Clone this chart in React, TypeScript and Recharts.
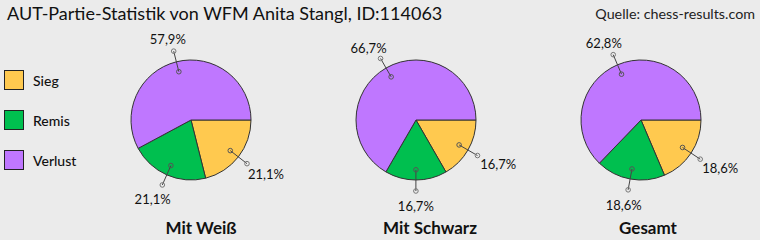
import React from 'react';
import { PieChart, Pie, Cell } from 'recharts';

const categories = ['Sieg', 'Remis', 'Verlust'];
const colors = ['#FFC94F', '#00BF4F', '#BF77FF'];
const weissValues = [21.1, 21.1, 57.9];
const schwarzValues = [16.7, 16.7, 66.7];
const gesamtValues = [18.6, 18.6, 62.8];
const groupLabels = ['Mit Weiß', 'Mit Schwarz', 'Gesamt'];
const title = 'AUT-Partie-Statistik von WFM Anita Stangl, ID:114063';
const source = 'Quelle: chess-results.com';

const build = (vals: number[]) => categories.map((name, i) => ({ name, value: vals[i] }));
const groups = [build(weissValues), build(schwarzValues), build(gesamtValues)];
const centersX = [191, 416, 641];
const labelX = [201, 430, 648];

const FONT = 'Lato, "Open Sans", sans-serif';
const RAD = Math.PI / 180;

const renderLabel = (p: any) => {
  const { cx, cy, midAngle, outerRadius, value } = p;
  const c = Math.cos(-midAngle * RAD);
  const s = Math.sin(-midAngle * RAD);
  const ix = cx + c * outerRadius * 0.83;
  const iy = cy + s * outerRadius * 0.83;
  const ox = cx + c * (outerRadius + 11);
  const oy = cy + s * (outerRadius + 11);
  const tx = ox + c * 24;
  const ty = oy + s * 14 + 1.5;
  return (
    <g>
      <line x1={ix} y1={iy} x2={ox} y2={oy} stroke="#444" strokeWidth={1} />
      <circle cx={ix} cy={iy} r={2.3} fill="none" stroke="#555" strokeWidth={1} />
      <circle cx={ox} cy={oy} r={2.3} fill="none" stroke="#777" strokeWidth={1} />
      <text x={tx} y={ty} textAnchor="middle" dominantBaseline="central" fontSize={13} fontFamily={FONT} fill="#111">
        {value.toFixed(1).replace('.', ',') + '%'}
      </text>
    </g>
  );
};

export default function App() {
  return (
    <div style={{ position: 'absolute', left: 0, top: 0, width: 760, height: 240, background: '#EBEBEB', overflow: 'hidden' }}>
      <div style={{ position: 'absolute', left: 7, top: 2, fontFamily: FONT, fontSize: 18, color: '#111', whiteSpace: 'nowrap' }}>{title}</div>
      <div style={{ position: 'absolute', right: 5, top: 5, fontFamily: FONT, fontSize: 14.3, color: '#222', whiteSpace: 'nowrap' }}>{source}</div>
      <div style={{ position: 'absolute', left: 4, top: 70, fontFamily: FONT, fontSize: 14, color: '#111' }}>
        {categories.map((c, i) => (
          <div key={c} style={{ display: 'flex', alignItems: 'center', height: 20, marginBottom: i < 2 ? 20 : 0 }}>
            <div style={{ width: 18, height: 18, background: colors[i], border: '1px solid #222', marginRight: 9 }} />
            <span style={{ fontWeight: 500 }}>{c}</span>
          </div>
        ))}
      </div>
      <PieChart width={760} height={240} margin={{ top: 0, right: 0, bottom: 0, left: 0 }} style={{ position: 'absolute', left: 0, top: 0 }}>
        {groups.map((data, gi) => (
          <Pie
            key={gi}
            data={data}
            dataKey="value"
            nameKey="name"
            cx={centersX[gi]}
            cy={120}
            outerRadius={60}
            startAngle={0}
            endAngle={-360}
            stroke="#333"
            strokeWidth={1}
            label={renderLabel}
            labelLine={false}
            isAnimationActive={false}
          >
            {data.map((d, i) => (
              <Cell key={d.name} fill={colors[i]} />
            ))}
          </Pie>
        ))}
      </PieChart>
      {groupLabels.map((g, i) => (
        <div key={g} style={{ position: 'absolute', left: labelX[i] - 80, width: 160, top: 217, textAlign: 'center', fontFamily: FONT, fontSize: 17, fontWeight: 700, color: '#111' }}>{g}</div>
      ))}
    </div>
  );
}
